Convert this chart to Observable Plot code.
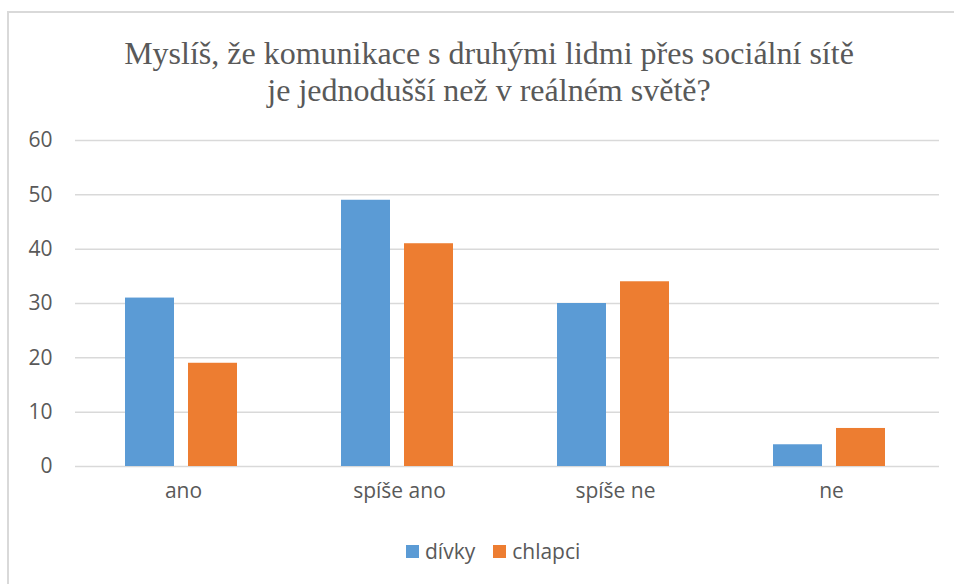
<!DOCTYPE html>
<html>
<head>
<meta charset="utf-8">
<script src="https://cdn.jsdelivr.net/npm/d3@7"></script>
<script src="https://cdn.jsdelivr.net/npm/@observablehq/plot@0.6"></script>
</head>
<body style="margin:0; width:954px; height:584px; position:relative; overflow:hidden; background:#fff;">
<div style="position:absolute; left:7px; top:11px; width:1000px; height:1000px; border:2px solid #d9d9d9; box-sizing:border-box;"></div>
<div style="position:absolute; top:35px; left:12px; width:954px; text-align:center; font-family:'Liberation Serif'; font-size:32px; line-height:37px; color:#595959;">Myslíš, že komunikace s druhými lidmi přes sociální sítě<br>je jednodušší než v reálném světě?</div>
<div id="chart" style="position:absolute; top:125px; left:0;"></div>
<div id="legend" style="position:absolute; top:537px; left:397px; display:flex; align-items:center; font-family:'Open Sans'; font-size:21px; color:#595959;"></div>
<script>
const categories = ["ano", "spíše ano", "spíše ne", "ne"];
const series = ["dívky", "chlapci"];
const divky = [31, 49, 30, 4];
const chlapci = [19, 41, 34, 7];
const colors = ["#5B9BD5", "#ED7D31"];
const yTicks = [0, 10, 20, 30, 40, 50, 60];

const values = [divky, chlapci];
const rows = [];
categories.forEach((c, i) => {
  series.forEach((s, j) => rows.push({cat: c, series: s, value: values[j][i]}));
});

const chart = Plot.plot({
  width: 954,
  height: 385,
  marginLeft: 73,
  marginRight: 14,
  marginTop: 15,
  marginBottom: 44,
  style: {fontFamily: "Open Sans, sans-serif", fontSize: "21px", color: "#595959", background: "transparent"},
  fx: {domain: categories, padding: 0, label: null, axis: "bottom", tickSize: 0, tickPadding: 17},
  x: {domain: series, axis: null, paddingInner: 0.22, paddingOuter: 0.82},
  y: {domain: [0, 60], ticks: yTicks, label: null, tickSize: 0, tickPadding: 23},
  color: {domain: series, range: colors},
  marks: [
    Plot.gridY(yTicks, {stroke: "#d9d9d9", strokeOpacity: 1, strokeWidth: 1.5}),
    Plot.barY(rows, {fx: "cat", x: "series", y: "value", fill: "series", dx: -2})
  ]
});
document.getElementById("chart").appendChild(chart);

const legend = document.getElementById("legend");
series.forEach((s, i) => {
  const item = document.createElement("div");
  item.style.cssText = "display:flex; align-items:center; margin:0 9px;";
  const sw = document.createElement("div");
  sw.style.cssText = "width:13px; height:13px; margin-right:6px; background:" + colors[i] + ";";
  const label = document.createElement("span");
  label.textContent = s;
  item.appendChild(sw);
  item.appendChild(label);
  legend.appendChild(item);
});
</script>
</body>
</html>
